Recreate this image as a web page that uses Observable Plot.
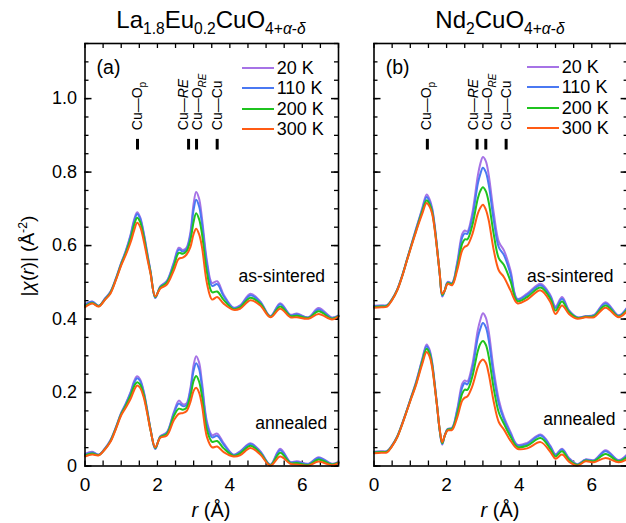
<!DOCTYPE html>
<html><head><meta charset="utf-8">
<script src="https://cdn.jsdelivr.net/npm/d3@7"></script>
<script src="https://cdn.jsdelivr.net/npm/@observablehq/plot@0.6"></script>
<style>
html,body{margin:0;padding:0;background:#fff;}
body{width:626px;height:523px;overflow:hidden;position:relative;font-family:"Liberation Sans",Arial,Helvetica,sans-serif;color:#000;}
.abs{position:absolute;white-space:nowrap;line-height:1;}
.title{font-size:24px;transform:translateX(-50%);}
.title sub{font-size:0.65em;vertical-align:-0.38em;line-height:0;}
.xlab{font-size:20px;transform:translateX(-50%);}
.ylab{font-size:19px;transform:translate(-50%,-50%) rotate(-90deg);}
.ylab sup{font-size:0.65em;vertical-align:0.55em;line-height:0;}
.leg{font-size:18px;display:flex;align-items:center;height:20px;}
.leg span.ln{display:inline-block;width:32px;height:2px;margin-right:3px;}
svg{max-width:none !important;}
</style>
</head><body>
<div id="pa" class="abs" style="left:0;top:0;width:345px"></div>
<div id="pb" class="abs" style="left:345px;top:0;width:290px"></div>
<script>
// ---------- data ----------
const temps = ["20 K", "110 K", "200 K", "300 K"];
const panelTitles = ["La<sub>1.8</sub>Eu<sub>0.2</sub>CuO<sub>4+<i>α</i>-<i>δ</i></sub>", "Nd<sub>2</sub>CuO<sub>4+<i>α</i>-<i>δ</i></sub>"];
const panelTags = ["(a)", "(b)"];
const condLabels = ["as-sintered", "annealed"];
const xTicks = [0, 2, 4, 6];
const yTicks = [0, 0.2, 0.4, 0.6, 0.8, 1.0];
const yTickLabels = ["0", "0.2", "0.4", "0.6", "0.8", "1.0"];
const bondNames = ["Cu—Op", "Cu—RE", "Cu—ORE", "Cu—Cu"];
const bondHtml = ['Cu—O<tspan dy="4" font-size="10">p</tspan>', 'Cu—<tspan font-style="italic">RE</tspan>', 'Cu—O<tspan dy="4" font-size="10" font-style="italic">RE</tspan>', 'Cu—Cu'];
// bond marker positions (r, Å)
const bondRA = [1.45, 2.86, 3.08, 3.65];
const bondRB = [1.47, 2.84, 3.08, 3.64];
const bondTextRA = [1.44, 2.73, 3.11, 3.65];
const bondTextRB = [1.44, 2.75, 3.13, 3.64];

// Panel (a) La1.8Eu0.2CuO4
const rA = [0, 0.2, 0.38, 0.55, 0.7, 0.85, 1.0, 1.12, 1.26, 1.36, 1.44, 1.52, 1.62, 1.72, 1.81, 1.94, 2.08, 2.26, 2.45, 2.59, 2.7, 2.8, 2.91, 3.0, 3.07, 3.15, 3.23, 3.37, 3.51, 3.65, 3.83, 4.1, 4.28, 4.57, 4.84, 5.12, 5.39, 5.67, 5.85, 6.17, 6.45, 6.82, 7.0];
const aSint300 = [0.432,0.442,0.434,0.452,0.469,0.505,0.546,0.573,0.609,0.642,0.662,0.652,0.614,0.565,0.523,0.462,0.483,0.494,0.532,0.564,0.567,0.575,0.596,0.632,0.646,0.631,0.596,0.496,0.453,0.460,0.442,0.425,0.428,0.451,0.437,0.405,0.428,0.405,0.405,0.401,0.414,0.399,0.407];
const aSint200 = [0.435,0.444,0.435,0.453,0.471,0.507,0.549,0.578,0.619,0.657,0.676,0.665,0.625,0.572,0.526,0.460,0.486,0.499,0.543,0.580,0.578,0.584,0.615,0.665,0.688,0.672,0.632,0.525,0.473,0.475,0.452,0.427,0.432,0.458,0.442,0.406,0.434,0.408,0.409,0.403,0.421,0.401,0.408];
const aSint110 = [0.438,0.447,0.436,0.455,0.473,0.509,0.552,0.582,0.627,0.667,0.686,0.674,0.632,0.577,0.529,0.458,0.488,0.502,0.550,0.589,0.584,0.590,0.628,0.698,0.725,0.707,0.660,0.547,0.490,0.495,0.462,0.430,0.435,0.465,0.446,0.407,0.440,0.410,0.413,0.404,0.426,0.403,0.409];
const aSint20  = [0.440,0.448,0.436,0.456,0.474,0.510,0.553,0.584,0.630,0.672,0.691,0.678,0.636,0.580,0.530,0.457,0.489,0.504,0.554,0.594,0.588,0.594,0.636,0.715,0.746,0.728,0.675,0.557,0.498,0.503,0.466,0.431,0.437,0.469,0.448,0.408,0.443,0.412,0.415,0.405,0.430,0.404,0.410];
const aAnn300 = [0.026,0.031,0.029,0.045,0.065,0.100,0.138,0.158,0.183,0.207,0.219,0.213,0.187,0.142,0.097,0.051,0.077,0.083,0.124,0.142,0.144,0.149,0.174,0.205,0.213,0.200,0.165,0.078,0.051,0.053,0.038,0.026,0.029,0.049,0.031,0.001,0.026,0.006,0.004,0.001,0.012,0.002,0.008];
const aAnn200 = [0.029,0.034,0.030,0.046,0.067,0.102,0.141,0.163,0.192,0.218,0.228,0.222,0.195,0.146,0.098,0.049,0.079,0.087,0.135,0.156,0.153,0.158,0.190,0.232,0.245,0.230,0.190,0.097,0.066,0.068,0.048,0.028,0.034,0.055,0.035,0.002,0.036,0.008,0.008,0.003,0.018,0.004,0.009];
const aAnn110 = [0.031,0.037,0.031,0.047,0.069,0.104,0.144,0.167,0.199,0.227,0.239,0.232,0.201,0.150,0.100,0.047,0.080,0.090,0.142,0.170,0.163,0.165,0.205,0.260,0.280,0.264,0.215,0.112,0.078,0.082,0.058,0.030,0.038,0.060,0.038,0.003,0.043,0.010,0.011,0.005,0.022,0.005,0.010];
const aAnn20  = [0.033,0.039,0.031,0.048,0.070,0.105,0.145,0.169,0.202,0.232,0.244,0.236,0.204,0.152,0.100,0.046,0.081,0.092,0.146,0.178,0.168,0.170,0.212,0.275,0.299,0.282,0.228,0.120,0.084,0.088,0.062,0.031,0.040,0.062,0.040,0.004,0.047,0.011,0.013,0.006,0.024,0.006,0.011];

// Panel (b) Nd2CuO4
const rB = [0, 0.2, 0.36, 0.5, 0.64, 0.78, 0.91, 1.03, 1.14, 1.24, 1.33, 1.45, 1.53, 1.6, 1.67, 1.74, 1.81, 1.88, 1.95, 2.03, 2.15, 2.29, 2.43, 2.5, 2.57, 2.7, 2.86, 2.93, 3.0, 3.08, 3.16, 3.3, 3.44, 3.58, 3.76, 3.95, 4.22, 4.59, 4.86, 5.0, 5.18, 5.37, 5.6, 5.83, 6.06, 6.38, 6.74, 7.0];
const bSint300 = [0.431,0.432,0.434,0.452,0.478,0.517,0.560,0.598,0.632,0.662,0.687,0.716,0.706,0.687,0.645,0.587,0.525,0.469,0.478,0.496,0.492,0.532,0.587,0.597,0.600,0.628,0.687,0.703,0.711,0.698,0.669,0.587,0.532,0.514,0.478,0.443,0.453,0.478,0.446,0.414,0.437,0.414,0.401,0.405,0.405,0.431,0.405,0.425];
const bSint200 = [0.433,0.434,0.436,0.453,0.479,0.518,0.561,0.600,0.635,0.666,0.693,0.723,0.713,0.692,0.649,0.589,0.524,0.466,0.478,0.498,0.495,0.540,0.605,0.617,0.617,0.652,0.728,0.749,0.759,0.748,0.718,0.630,0.565,0.547,0.503,0.449,0.460,0.486,0.455,0.423,0.448,0.419,0.403,0.406,0.408,0.437,0.407,0.430];
const bSint110 = [0.435,0.436,0.437,0.454,0.480,0.519,0.562,0.602,0.638,0.670,0.698,0.732,0.720,0.698,0.653,0.591,0.524,0.463,0.478,0.500,0.497,0.548,0.622,0.633,0.632,0.672,0.768,0.795,0.812,0.800,0.766,0.668,0.595,0.574,0.523,0.453,0.466,0.492,0.461,0.430,0.455,0.422,0.404,0.407,0.410,0.442,0.409,0.434];
const bSint20  = [0.436,0.437,0.438,0.455,0.481,0.520,0.563,0.603,0.640,0.672,0.702,0.739,0.726,0.703,0.657,0.593,0.523,0.461,0.479,0.501,0.498,0.553,0.632,0.641,0.638,0.684,0.790,0.823,0.841,0.830,0.792,0.688,0.610,0.587,0.533,0.455,0.469,0.496,0.465,0.434,0.460,0.424,0.405,0.408,0.411,0.446,0.410,0.436];
const bAnn300 = [0.035,0.036,0.037,0.054,0.078,0.114,0.151,0.185,0.215,0.248,0.278,0.310,0.298,0.269,0.218,0.160,0.100,0.065,0.083,0.097,0.098,0.131,0.178,0.186,0.189,0.215,0.269,0.284,0.290,0.281,0.251,0.174,0.119,0.099,0.069,0.047,0.048,0.065,0.038,0.020,0.031,0.012,0.001,0.013,0.010,0.022,0.010,0.020];
const bAnn200 = [0.037,0.038,0.039,0.055,0.079,0.115,0.152,0.187,0.218,0.252,0.284,0.319,0.306,0.275,0.221,0.161,0.098,0.062,0.083,0.099,0.101,0.141,0.197,0.208,0.207,0.240,0.313,0.333,0.340,0.330,0.298,0.210,0.145,0.115,0.080,0.052,0.055,0.076,0.046,0.026,0.040,0.017,0.003,0.015,0.013,0.033,0.013,0.027];
const bAnn110 = [0.038,0.039,0.040,0.056,0.080,0.116,0.153,0.189,0.221,0.256,0.289,0.326,0.312,0.280,0.224,0.162,0.097,0.060,0.083,0.100,0.103,0.149,0.214,0.226,0.222,0.260,0.350,0.374,0.389,0.378,0.343,0.243,0.168,0.127,0.088,0.056,0.060,0.083,0.052,0.030,0.045,0.020,0.004,0.017,0.015,0.040,0.015,0.032];
const bAnn20  = [0.039,0.040,0.041,0.057,0.081,0.117,0.154,0.190,0.223,0.258,0.292,0.331,0.317,0.284,0.227,0.163,0.096,0.058,0.084,0.101,0.104,0.154,0.224,0.233,0.230,0.272,0.370,0.398,0.416,0.404,0.366,0.260,0.180,0.133,0.093,0.058,0.063,0.086,0.055,0.032,0.047,0.022,0.005,0.018,0.016,0.043,0.016,0.035];

// ---------- style ----------
const colors = ["#a673e6", "#4a78f2", "#1fc31f", "#ff5b14"];
const FONT = '"Liberation Sans", Arial, Helvetica, sans-serif';

function makePanel(opts) {
  const {r, sint, ann, width, marginLeft, marginRight, showY, tag, bondR, bondTextR, condPos} = opts;
  const H = 523, mt = 43, mb = 57.5;
  const ph = H - mt - mb, pw = width - marginLeft - marginRight;
  const xMinor = d3.range(0, 7.001, 0.5);
  const yMinor = d3.range(0, 1.1501, 0.05);
  const marks = [];
  // inward ticks
  marks.push(Plot.tickX(xMinor, {x: d => d, insetTop: ph - 5, strokeWidth: 1.3}));
  marks.push(Plot.tickX(xMinor, {x: d => d, insetBottom: ph - 5, strokeWidth: 1.3}));
  marks.push(Plot.tickY(yMinor, {y: d => d, insetRight: pw - 4, strokeWidth: 1.3}));
  marks.push(Plot.tickY(yMinor, {y: d => d, insetLeft: pw - 4, strokeWidth: 1.3}));
  marks.push(Plot.tickY(yTicks, {y: d => d, insetRight: pw - 7, strokeWidth: 1.5}));
  marks.push(Plot.tickY(yTicks, {y: d => d, insetLeft: pw - 7, strokeWidth: 1.5}));
  // curves
  [sint, ann].forEach(set => {
    set.forEach((vals, i) => {
      const data = r.map((x, j) => ({r: x, v: vals[j], t: temps[i]}));
      marks.push(Plot.line(data, {x: "r", y: "v", stroke: "t", strokeWidth: 2, curve: "catmull-rom"}));
    });
  });
  // bond markers
  marks.push(Plot.ruleX(bondR, {x: d => d, y1: 0.86, y2: 0.889, strokeWidth: 3, stroke: "#000"}));
  marks.push(Plot.text(bondNames, {x: (d, i) => bondTextR[i], y: 0.914, text: d => d, rotate: -90, textAnchor: "start", fontSize: 14, className: "bond"}));
  // condition labels
  marks.push(Plot.text(condLabels, {x: (d, i) => condPos[i][0], y: (d, i) => condPos[i][1], text: d => d, textAnchor: "end", fontSize: 17.5}));
  // panel tag
  marks.push(Plot.text([tag], {x: 0.65, y: 1.083, text: d => d, fontSize: 19.5}));
  // axes
  marks.push(Plot.axisX({ticks: xTicks, tickSize: 0, tickPadding: 11, fontSize: 19, tickFormat: d => String(d), label: null}));
  if (showY) marks.push(Plot.axisY({ticks: yTicks, tickSize: 0, tickPadding: 8, fontSize: 18, tickFormat: (d, i) => yTickLabels[i], label: null}));
  marks.push(Plot.frame({stroke: "#000", strokeWidth: 1.6}));
  const svg = Plot.plot({
    width, height: H, marginLeft, marginRight, marginTop: mt, marginBottom: mb,
    x: {domain: [0, 7], axis: null},
    y: {domain: [0, 1.15], axis: null},
    color: {domain: temps, range: colors},
    style: {fontFamily: FONT, background: "transparent", overflow: "visible", color: "#000", maxWidth: "none"},
    marks
  });
  svg.style.maxWidth = "none";
  d3.select(svg).selectAll("g.bond text").each(function(d, i) {
    this.innerHTML = bondHtml[i];
  });
  return svg;
}

document.getElementById("pa").appendChild(makePanel({
  r: rA, sint: [aSint20, aSint110, aSint200, aSint300], ann: [aAnn20, aAnn110, aAnn200, aAnn300],
  width: 345, marginLeft: 84.5, marginRight: 7, showY: true, tag: panelTags[0],
  bondR: bondRA, bondTextR: bondTextRA, condPos: [[6.63, 0.516], [6.69, 0.116]]
}));
document.getElementById("pb").appendChild(makePanel({
  r: rB, sint: [bSint20, bSint110, bSint200, bSint300], ann: [bAnn20, bAnn110, bAnn200, bAnn300],
  width: 290, marginLeft: 28.5, marginRight: 7.4, showY: false, tag: panelTags[1],
  bondR: bondRB, bondTextR: bondTextRB, condPos: [[6.6, 0.516], [6.65, 0.127]]
}));

// titles, axis labels, legends (HTML)
function addDiv(cls, html, left, top) {
  const d = document.createElement("div");
  d.className = "abs " + cls;
  d.innerHTML = html;
  d.style.left = left + "px";
  d.style.top = top + "px";
  document.body.appendChild(d);
  return d;
}
addDiv("title", panelTitles[0], 211, 8);
addDiv("title", panelTitles[1], 500, 8);
addDiv("xlab", "<i>r</i> (Å)", 211, 500);
addDiv("xlab", "<i>r</i> (Å)", 500, 500);
addDiv("ylab", "|<i>χ</i>(<i>r</i>)| (Å<sup>-2</sup>)", 27, 256);
[[241.7, 58], [526.7, 57]].forEach(([lx, ly]) => {
  temps.forEach((t, i) => {
    addDiv("leg", `<span class="ln" style="background:${colors[i]}"></span>${t}`, lx, ly + i * 20.3);
  });
});
</script>
</body></html>
